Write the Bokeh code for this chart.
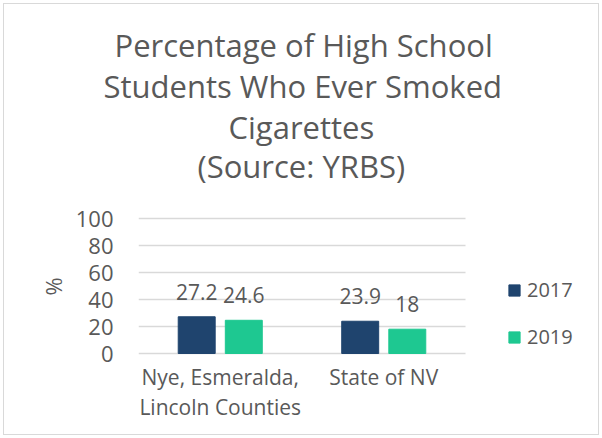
from bokeh.plotting import figure
from bokeh.models import (ColumnDataSource, Range1d, LabelSet, Title, FixedTicker,
                          Legend, LegendItem)
from bokeh.core.properties import value
from bokeh.embed import file_html
from bokeh.resources import INLINE

categories = ["Nye, Esmeralda,\nLincoln Counties", "State of NV"]
years = ["2017", "2019"]
values_2017 = [27.2, 23.9]
values_2019 = [24.6, 18]
title_lines = ["Percentage of High School", "Students Who Ever Smoked",
               "Cigarettes", "(Source: YRBS)"]
y_ticks = [0, 20, 40, 60, 80, 100]

FONT = "Open Sans"
GRAY = "#595959"
C2017 = "#1F446E"
C2019 = "#1EC891"

# category slots on the x scale (one unit per category)
pos = [i + 0.5 for i in range(len(categories))]
OFF = 0.144
src = ColumnDataSource(dict(x17=[x - OFF for x in pos], x19=[x + OFF for x in pos],
                            v17=values_2017, v19=values_2019,
                            l17=[str(v) for v in values_2017],
                            l19=[str(v) for v in values_2019]))

PX_X = 163.5   # px per category
PX_Y = 1.35    # px per percentage point
FRAME_TOP, FRAME_BOTTOM, FRAME_LEFT = 216, 356, 138
p = figure(width=602, height=438, output_backend="svg", toolbar_location=None,
           title=None,
           x_range=Range1d(0, (602 - FRAME_LEFT) / PX_X),
           y_range=Range1d(-(FRAME_BOTTOM - 353) / PX_Y, (353 - FRAME_TOP) / PX_Y),
           min_border_left=FRAME_LEFT, min_border_right=0,
           min_border_top=FRAME_TOP, min_border_bottom=438 - FRAME_BOTTOM,
           styles={"outline": "1px solid #D9D9D9", "outline-offset": "-4px",
                   "background-color": "white"})
p.outline_line_color = None
p.background_fill_alpha = 0
p.border_fill_alpha = 0

r1 = p.vbar(x="x17", top="v17", width=0.226, source=src, color=C2017)
r2 = p.vbar(x="x19", top="v19", width=0.226, source=src, color=C2019)

for xcol, vcol, lcol in (("x17", "v17", "l17"), ("x19", "v19", "l19")):
    p.add_layout(LabelSet(x=xcol, y=vcol, text=lcol, source=src,
                          text_align="center", text_baseline="alphabetic",
                          y_offset=17, text_font=value(FONT),
                          text_font_size="21px", text_color=GRAY))

# x axis
p.xaxis.ticker = FixedTicker(ticks=pos)
p.xaxis.major_label_overrides = {x: c for x, c in zip(pos, categories)}
p.xaxis.axis_line_color = None
p.xaxis.major_tick_line_color = None
p.xaxis.minor_tick_line_color = None
p.xaxis.major_label_text_font = FONT
p.xaxis.major_label_text_font_size = "21px"
p.xaxis.major_label_text_color = GRAY
p.xaxis.major_label_text_line_height = 1.1
p.xaxis.major_label_standoff = 0
p.xgrid.grid_line_color = None

# y axis
p.yaxis.ticker = FixedTicker(ticks=y_ticks)
p.yaxis.axis_line_color = None
p.yaxis.major_tick_line_color = None
p.yaxis.minor_tick_line_color = None
p.yaxis.major_label_text_font = FONT
p.yaxis.major_label_text_font_size = "22px"
p.yaxis.major_label_text_color = GRAY
p.yaxis.major_label_standoff = 19
p.yaxis.axis_label = "%"
p.yaxis.axis_label_text_font = FONT
p.yaxis.axis_label_text_font_size = "22px"
p.yaxis.axis_label_text_font_style = "normal"
p.yaxis.axis_label_text_color = GRAY
p.yaxis.axis_label_standoff = 5
p.ygrid.ticker = FixedTicker(ticks=y_ticks)
p.ygrid.grid_line_color = "#D9D9D9"
p.ygrid.grid_line_width = 1.5
try:
    p.ygrid.cross_bounds = (0, len(categories))
except Exception:
    p.xaxis.bounds = (0, len(categories))

# spacer between the title block and the plot
p.add_layout(Title(text=" ", text_font_size="10px", standoff=20), "above")
# title lines, stacked above the plot (later-added sit further from the plot)
title_offsets = [-24, -35, 90, 59]      # left edge of each line, relative to the plot
title_standoffs = [-3, -3, -3, -7]
for txt, off, so in reversed(list(zip(title_lines, title_offsets, title_standoffs))):
    p.add_layout(Title(text=txt, align="left", offset=off,
                       text_font=FONT, text_font_size="31px",
                       text_font_style="normal", text_color=GRAY,
                       standoff=so), "above")

legend = Legend(items=[LegendItem(label=years[0], renderers=[r1]),
                       LegendItem(label=years[1], renderers=[r2])],
                location=(369, 6), orientation="vertical",
                glyph_width=14, glyph_height=14, label_height=24,
                label_standoff=6, spacing=20, padding=0, margin=0,
                border_line_color=None, background_fill_alpha=0,
                label_text_font=FONT, label_text_font_size="20px",
                label_text_color=GRAY)
p.add_layout(legend)

open("out.html", "w").write(file_html(p, INLINE))
